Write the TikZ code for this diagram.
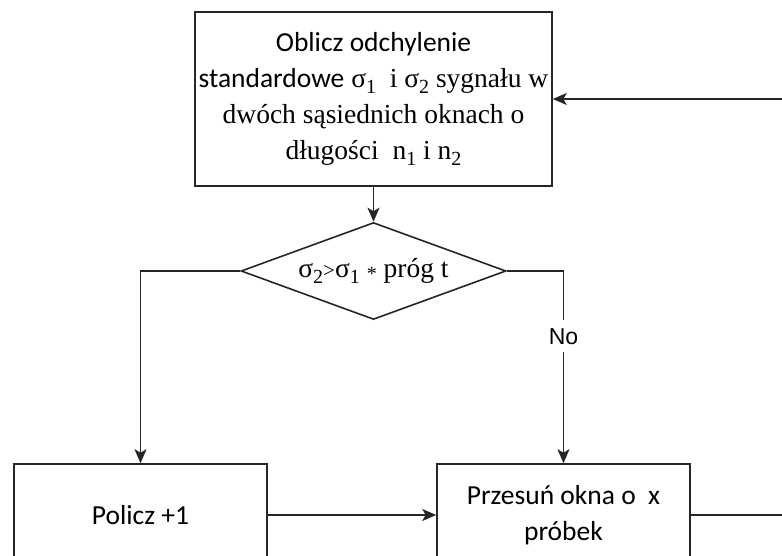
\documentclass[tikz,border=0pt]{standalone}
\usepackage{fontspec}
\setmainfont{Liberation Serif}
\newfontfamily\carl{Carlito}
\newfontfamily\arl{Liberation Sans}
\usetikzlibrary{shapes.geometric,arrows.meta}
\newcommand\lo[1]{\raisebox{-0.25em}{\fontsize{20}{20}\selectfont #1}}
\begin{document}
\begin{tikzpicture}[x=1pt,y=-1pt,
  box/.style={draw=black!85, line width=1.6pt, rectangle, inner sep=0pt, align=center,
    font=\fontsize{27.5}{36}\selectfont},
  dia/.style={draw=black!85, line width=1.6pt, diamond, aspect=2.73, inner sep=0pt,
    minimum width=265pt, minimum height=97pt, font=\fontsize{27.5}{36}\selectfont},
  flow/.style={draw=black!85, line width=1.6pt, -{Stealth[length=14pt,width=12pt,inset=3.5pt]}},
  lbl/.style={fill=white, inner xsep=2pt, inner ysep=8pt, font=\arl\fontsize{23}{26}\selectfont}
]
\clip (0,0) rectangle (782,556);
\fill[white] (0,0) rectangle (782,556);

\node[box, minimum width=357pt, minimum height=174pt] (calc) at (373.5,99)
  {{\carl Oblicz odchylenie}\\
   {\carl standardowe} σ\lo{1}\ \ i σ\lo{2} sygnału w\\
   dwóch sąsiednich oknach o\\
   długości\ \ n\lo{1} i n\lo{2}};

\node[dia] (dec) at (373.5,271)
  {σ\lo{2}{\fontsize{21}{21}\selectfont >}σ\lo{1} \raisebox{-0.12em}{\fontsize{20}{20}\selectfont *} próg t};

\node[box, minimum width=253pt, minimum height=102pt] (cnt) at (140.5,515) {\carl Policz +1};
\node[box, minimum width=253pt, minimum height=102pt] (move) at (563.5,515)
  {\carl Przesuń okna o\ \ x\\ \carl próbek};

\coordinate (r1) at (800,515);

\draw[flow] (calc.south) -- (dec.north);
\draw[flow] (dec.west) -| (cnt.north);
\draw[flow] (dec.east) -| node[lbl, pos=0.67] {No} (move.north);
\draw[flow] (cnt.east) -- (move.west);
\draw[flow] (move.east) -- (r1) |- (calc.east);
\end{tikzpicture}
\end{document}
